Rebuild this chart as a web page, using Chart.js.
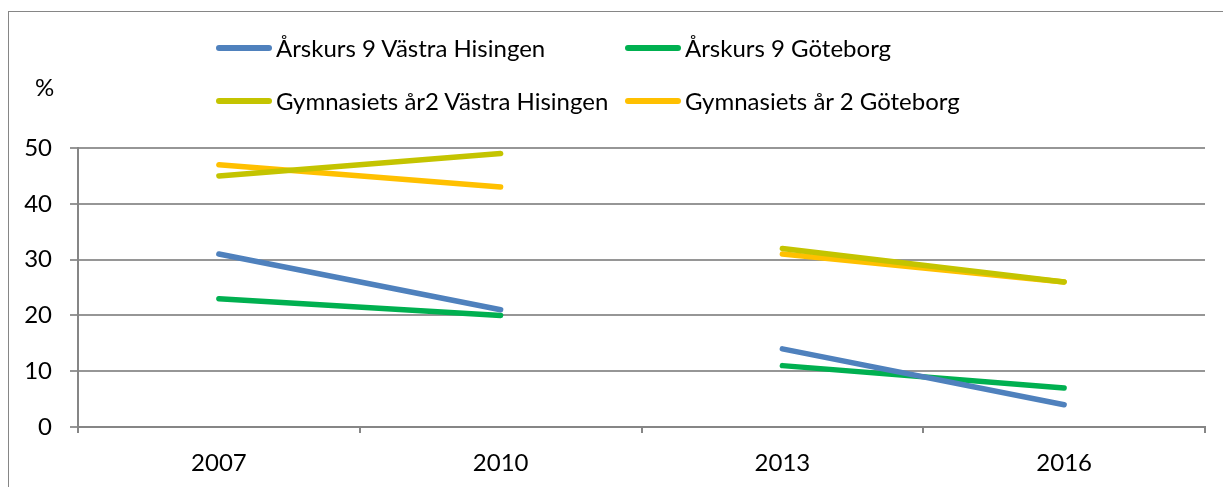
<!DOCTYPE html>
<html>
<head>
<meta charset="utf-8">
<script src="https://cdn.jsdelivr.net/npm/chart.js@4"></script>
<style>
  html, body { margin: 0; padding: 0; background: #fff; }
  #wrap { position: relative; width: 1223px; height: 487px; overflow: hidden; font-family: Lato, "Open Sans", sans-serif; }
  #frame { position: absolute; left: 8px; top: 11px; width: 1300px; height: 600px; border-left: 1px solid #868686; border-top: 1px solid #868686; pointer-events: none; }
  #pct { position: absolute; left: 35px; top: 72px; font-size: 24px; line-height: 30px; color: #000; }
  .leg { position: absolute; display: flex; align-items: center; font-size: 24px; line-height: 30px; color: #000; white-space: nowrap; }
  .leg span.sw { display: inline-block; width: 56px; height: 6px; border-radius: 3px; margin-right: 4px; }
  canvas { position: absolute; left: 0; top: 0; }
</style>
</head>
<body>
<div id="wrap">
  <canvas id="c" width="1223" height="487"></canvas>
  <div id="frame"></div>
  <div id="pct">%</div>
  <div id="legend"></div>
</div>
<script>
const categories = ['2007', '2010', '2013', '2016'];
const seriesNames = ['Årskurs 9 Västra Hisingen', 'Årskurs 9 Göteborg', 'Gymnasiets år2 Västra Hisingen', 'Gymnasiets år 2 Göteborg'];
const arskurs9VastraHisingen = [31, 21, 14, 4];
const arskurs9Goteborg = [23, 20, 11, 7];
const gymnasietVastraHisingen = [45, 49, 32, 26];
const gymnasietGoteborg = [47, 43, 31, 26];
const yTicks = [0, 10, 20, 30, 40, 50];
const colors = ['#4F81BD', '#00B050', '#C4C400', '#FFC000'];

const values = [arskurs9VastraHisingen, arskurs9Goteborg, gymnasietVastraHisingen, gymnasietGoteborg];
const datasets = values.map((v, i) => ({
  label: seriesNames[i],
  data: v,
  borderColor: colors[i],
  backgroundColor: colors[i],
  borderWidth: 5.5,
  borderCapStyle: 'round',
  pointRadius: 0,
  pointHoverRadius: 0,
  tension: 0,
  segment: { borderColor: ctx => ctx.p0DataIndex === 1 ? 'rgba(0,0,0,0)' : colors[i] }
}));
new Chart(document.getElementById('c'), {
  type: 'line',
  data: { labels: categories, datasets: datasets },
  options: {
    responsive: false,
    animation: false,
    layout: { padding: { left: 0, top: 148, right: 18, bottom: 0 } },
    plugins: { legend: { display: false }, tooltip: { enabled: false } },
    scales: {
      x: {
        offset: true,
        grid: { offset: true, drawOnChartArea: false, drawTicks: true, tickLength: 6, color: '#868686', lineWidth: 2 },
        border: { color: '#868686', width: 2 },
        ticks: { color: '#000', font: { family: 'Lato', size: 24 }, padding: 16 },
        afterFit: s => { s.height = 60; }
      },
      y: {
        min: 0, max: 50,
        afterBuildTicks: s => { s.ticks = yTicks.map(v => ({ value: v })); },
        grid: { color: '#969696', lineWidth: 2, tickLength: 8 },
        border: { color: '#868686', width: 2 },
        ticks: { color: '#000', font: { family: 'Lato', size: 24 }, padding: 18 },
        afterFit: s => { s.width = 78; }
      }
    }
  }
});

const legPos = [[216, 48], [625, 48], [216, 101], [625, 101]];
const legend = document.getElementById('legend');
seriesNames.forEach((n, i) => {
  const d = document.createElement('div');
  d.className = 'leg';
  d.style.left = legPos[i][0] + 'px';
  d.style.top = (legPos[i][1] - 15) + 'px';
  d.innerHTML = '<span class="sw" style="background:' + colors[i] + '"></span>' + n;
  legend.appendChild(d);
});
</script>
</body>
</html>
